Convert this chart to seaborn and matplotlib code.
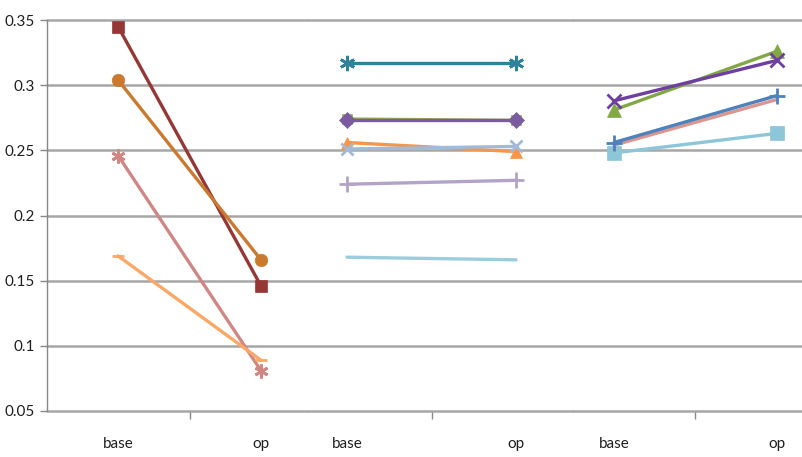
import matplotlib
matplotlib.use("Agg")
import matplotlib.pyplot as plt
import seaborn as sns

# categories shared by the three stitched charts
cats = ["base", "op"]

# left chart
p1_darkred = [0.345, 0.146]
p1_brown = [0.304, 0.166]
p1_pink = [0.246, 0.081]
p1_peach = [0.169, 0.089]

# middle chart
p2_teal = [0.317, 0.317]
p2_green = [0.274, 0.273]
p2_purple = [0.273, 0.273]
p2_orange = [0.256, 0.249]
p2_bluegray = [0.251, 0.253]
p2_lavender = [0.224, 0.227]
p2_lightblue = [0.168, 0.166]

# right chart
p3_lightblue = [0.248, 0.263]
p3_pink = [0.254, 0.289]
p3_blue = [0.256, 0.292]
p3_green = [0.281, 0.326]
p3_purple = [0.288, 0.319]

yticks = [0.05, 0.1, 0.15, 0.2, 0.25, 0.3, 0.35]
ytick_labels = ["0.05", "0.1", "0.15", "0.2", "0.25", "0.3", "0.35"]

star = (6, 2, 0)

panels = [
    [(p1_darkred, "#953735", "s", 8),
     (p1_brown, "#C97A2F", "o", 9),
     (p1_pink, "#D08784", star, 10),
     (p1_peach, "#FAA868", "_", 9)],
    [(p2_teal, "#2E8299", star, 11),
     (p2_green, "#8DB04A", "s", 7),
     (p2_purple, "#7B5BA0", "D", 8),
     (p2_orange, "#F79646", "^", 9),
     (p2_bluegray, "#A2B9D8", "x", 9),
     (p2_lavender, "#B4A3C8", "+", 11),
     (p2_lightblue, "#9CCDDD", None, 0)],
    [(p3_lightblue, "#8DC6D8", "s", 10),
     (p3_pink, "#DB9690", None, 0),
     (p3_blue, "#4F81BD", "+", 12),
     (p3_green, "#82A846", "^", 10),
     (p3_purple, "#6F3FA0", "x", 10)],
]

# panel extents (figure px) and x-limits so categories line up with the picture
W, H = 803, 457
edges = [(47, 307), (307, 573), (573, 803)]
xlims = [(-0.497, 1.322), (-0.237, 1.337), (-0.252, 1.16)]

sns.set_style("white")
plt.rcParams["font.family"] = ["Lato", "DejaVu Sans"]

fig = plt.figure(figsize=(W / 100, H / 100), dpi=100)
bottom = (H - 411) / H
top = (H - 20) / H

grid_color = "#A6A6A6"
text_color = "#1F1F1F"

for i, (series, (x0, x1), xl) in enumerate(zip(panels, edges, xlims)):
    ax = fig.add_axes([x0 / W, bottom, (x1 - x0) / W, top - bottom])
    for vals, color, marker, ms in series:
        kw = dict(color=color, linewidth=2.4)
        if marker is not None:
            kw.update(marker=marker, markersize=ms, markerfacecolor=color,
                      markeredgecolor=color,
                      markeredgewidth=2 if marker in ("x", "+", "_", star) else 0.5)
        sns.lineplot(x=cats, y=vals, ax=ax, **kw)
    ax.set_xlim(*xl)
    ax.set_ylim(0.05, 0.35)
    ax.set_yticks(yticks)
    ax.yaxis.grid(True, color=grid_color, linewidth=1.8)
    for gl in ax.get_ygridlines():
        gl.set_clip_on(False)
    ax.set_xticks([0, 1])
    ax.set_xticklabels(cats, fontsize=11, color=text_color)
    ax.set_xticks([0.5], minor=True)
    ax.tick_params(axis="x", which="major", length=0, pad=19)
    ax.tick_params(axis="x", which="minor", length=6, width=1, color="#888888",
                   direction="out", bottom=True)
    for s in ["top", "right", "bottom"]:
        ax.spines[s].set_visible(False)
    if i == 0:
        ax.spines["left"].set_color("#888888")
        ax.spines["left"].set_linewidth(1)
        ax.set_yticklabels(ytick_labels, fontsize=11, color=text_color)
        ax.tick_params(axis="y", length=5, width=1, color="#888888",
                       direction="out", left=True, pad=4)
    else:
        ax.spines["left"].set_visible(False)
        ax.tick_params(axis="y", left=False, labelleft=False)
    ax.set_xlabel("")
    ax.set_ylabel("")
    if ax.get_legend():
        ax.get_legend().remove()

fig.savefig("out.png", dpi=100)
